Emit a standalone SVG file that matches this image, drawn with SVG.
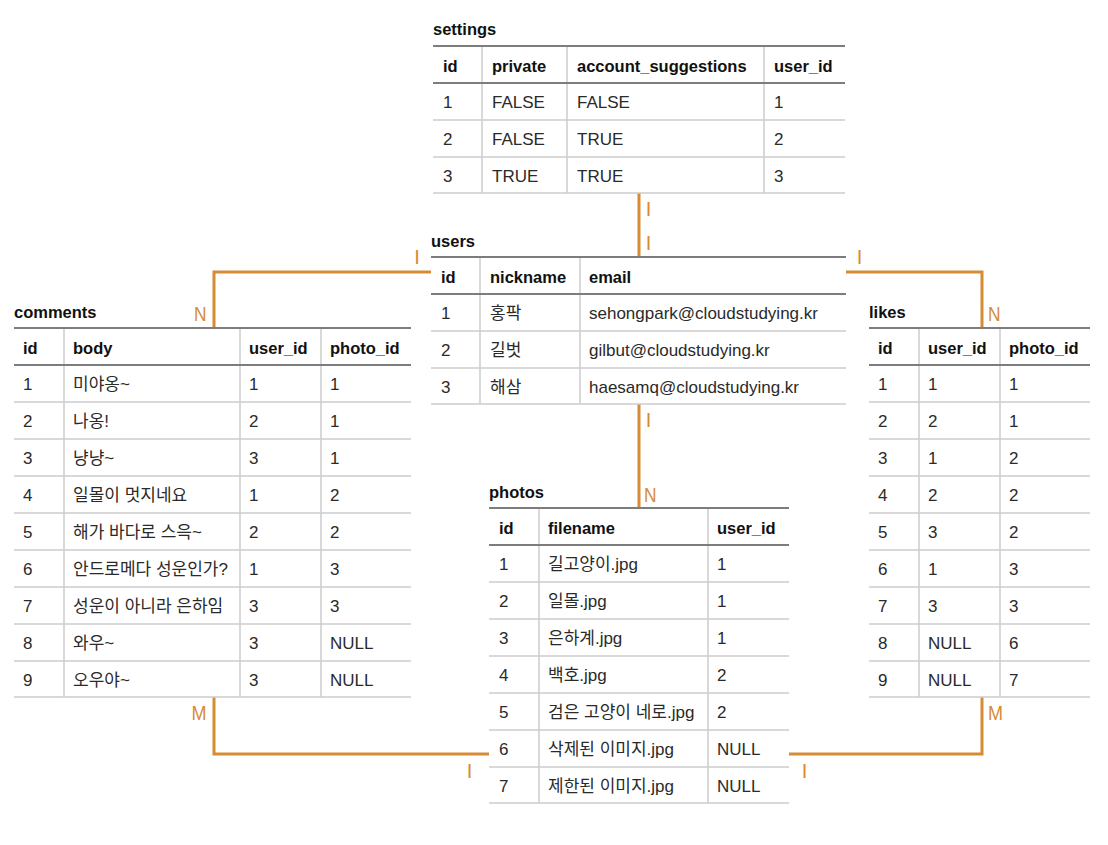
<svg xmlns="http://www.w3.org/2000/svg" width="1108" height="845" viewBox="0 0 1108 845">
<style>
text{font-family:"Liberation Sans","Noto Sans CJK KR",sans-serif;fill:#222}
.ti{font-size:16.5px;font-weight:bold;fill:#111}
.h{font-size:16.5px;font-weight:bold;fill:#111}
.d{font-size:17px;fill:#2a2a2a}
.dk{stroke:#7d7d7d;stroke-width:2;fill:none}
.lt{stroke:#cdcdcd;stroke-width:1.5;fill:none}
.conn{stroke:#d68b35;stroke-width:3;fill:none}
.lab{font-size:20px;fill:#d68b35}
</style>
<rect width="1108" height="845" fill="#fff"/>

<g id="connectors">
<path class="conn" d="M639 193V257"/>
<path class="conn" d="M431 272H214V328"/>
<path class="conn" d="M846 272H982V328"/>
<path class="conn" d="M639 404V508"/>
<path class="conn" d="M214 697V754H489"/>
<path class="conn" d="M982 697V754H789"/>
<text class="lab" x="648.5" y="216" text-anchor="middle">I</text>
<text class="lab" x="648.5" y="249.5" text-anchor="middle">I</text>
<text class="lab" x="417" y="264" text-anchor="middle">I</text>
<text class="lab" x="194" y="321" textLength="12.5" lengthAdjust="spacingAndGlyphs">N</text>
<text class="lab" x="859.5" y="264" text-anchor="middle">I</text>
<text class="lab" x="988" y="321" textLength="12.5" lengthAdjust="spacingAndGlyphs">N</text>
<text class="lab" x="648.5" y="427" text-anchor="middle">I</text>
<text class="lab" x="644" y="501.5" textLength="12.5" lengthAdjust="spacingAndGlyphs">N</text>
<text class="lab" x="191.5" y="720" textLength="15" lengthAdjust="spacingAndGlyphs">M</text>
<text class="lab" x="469.5" y="778" text-anchor="middle">I</text>
<text class="lab" x="988" y="720" textLength="15" lengthAdjust="spacingAndGlyphs">M</text>
<text class="lab" x="804.5" y="778" text-anchor="middle">I</text>
</g>

<g id="settings">
<text class="ti" x="433" y="35">settings</text>
<path class="lt" d="M482 46V193M567 46V193M764 46V193"/>
<path class="lt" d="M433 120H845M433 157H845M433 193H845"/>
<path class="dk" d="M433 46H845M433 83H845"/>
<text class="h" x="443" y="71.5">id</text><text class="h" x="492" y="71.5">private</text><text class="h" x="577" y="71.5">account_suggestions</text><text class="h" x="774" y="71.5">user_id</text>
<text class="d" x="443" y="107.5">1</text><text class="d" x="492" y="107.5">FALSE</text><text class="d" x="577" y="107.5">FALSE</text><text class="d" x="774" y="107.5">1</text>
<text class="d" x="443" y="144.5">2</text><text class="d" x="492" y="144.5">FALSE</text><text class="d" x="577" y="144.5">TRUE</text><text class="d" x="774" y="144.5">2</text>
<text class="d" x="443" y="181.5">3</text><text class="d" x="492" y="181.5">TRUE</text><text class="d" x="577" y="181.5">TRUE</text><text class="d" x="774" y="181.5">3</text>
</g>

<g id="users">
<text class="ti" x="431" y="247">users</text>
<path class="lt" d="M480 257V404M580 257V404"/>
<path class="lt" d="M431 331H846M431 368H846M431 404H846"/>
<path class="dk" d="M431 257H846M431 294H846"/>
<text class="h" x="441" y="282.5">id</text><text class="h" x="490" y="282.5">nickname</text><text class="h" x="589" y="282.5">email</text>
<text class="d" x="441" y="318.5">1</text><text class="d" x="490" y="318.5">홍팍</text><text class="d" x="589" y="318.5">sehongpark@cloudstudying.kr</text>
<text class="d" x="441" y="355.5">2</text><text class="d" x="490" y="355.5">길벗</text><text class="d" x="589" y="355.5">gilbut@cloudstudying.kr</text>
<text class="d" x="441" y="392.5">3</text><text class="d" x="490" y="392.5">해삼</text><text class="d" x="589" y="392.5">haesamq@cloudstudying.kr</text>
</g>

<g id="comments">
<text class="ti" x="14" y="318">comments</text>
<path class="lt" d="M64 328V697M240 328V697M321 328V697"/>
<path class="lt" d="M14 402H411M14 439H411M14 476H411M14 513H411M14 550H411M14 587H411M14 624H411M14 661H411M14 697H411"/>
<path class="dk" d="M14 328H411M14 365H411"/>
<text class="h" x="23" y="353.5">id</text><text class="h" x="73" y="353.5">body</text><text class="h" x="249" y="353.5">user_id</text><text class="h" x="330" y="353.5">photo_id</text>
<text class="d" x="23" y="389.5">1</text><text class="d" x="73" y="389.5">미야옹~</text><text class="d" x="249" y="389.5">1</text><text class="d" x="330" y="389.5">1</text>
<text class="d" x="23" y="426.5">2</text><text class="d" x="73" y="426.5">나옹!</text><text class="d" x="249" y="426.5">2</text><text class="d" x="330" y="426.5">1</text>
<text class="d" x="23" y="463.5">3</text><text class="d" x="73" y="463.5">냥냥~</text><text class="d" x="249" y="463.5">3</text><text class="d" x="330" y="463.5">1</text>
<text class="d" x="23" y="500.5">4</text><text class="d" x="73" y="500.5">일몰이 멋지네요</text><text class="d" x="249" y="500.5">1</text><text class="d" x="330" y="500.5">2</text>
<text class="d" x="23" y="537.5">5</text><text class="d" x="73" y="537.5">해가 바다로 스윽~</text><text class="d" x="249" y="537.5">2</text><text class="d" x="330" y="537.5">2</text>
<text class="d" x="23" y="574.5">6</text><text class="d" x="73" y="574.5">안드로메다 성운인가?</text><text class="d" x="249" y="574.5">1</text><text class="d" x="330" y="574.5">3</text>
<text class="d" x="23" y="611.5">7</text><text class="d" x="73" y="611.5">성운이 아니라 은하임</text><text class="d" x="249" y="611.5">3</text><text class="d" x="330" y="611.5">3</text>
<text class="d" x="23" y="648.5">8</text><text class="d" x="73" y="648.5">와우~</text><text class="d" x="249" y="648.5">3</text><text class="d" x="330" y="648.5">NULL</text>
<text class="d" x="23" y="685.5">9</text><text class="d" x="73" y="685.5">오우야~</text><text class="d" x="249" y="685.5">3</text><text class="d" x="330" y="685.5">NULL</text>
</g>

<g id="likes">
<text class="ti" x="869" y="318">likes</text>
<path class="lt" d="M919 328V697M1000 328V697"/>
<path class="lt" d="M869 402H1090M869 439H1090M869 476H1090M869 513H1090M869 550H1090M869 587H1090M869 624H1090M869 661H1090M869 697H1090"/>
<path class="dk" d="M869 328H1090M869 365H1090"/>
<text class="h" x="878" y="353.5">id</text><text class="h" x="928" y="353.5">user_id</text><text class="h" x="1009" y="353.5">photo_id</text>
<text class="d" x="878" y="389.5">1</text><text class="d" x="928" y="389.5">1</text><text class="d" x="1009" y="389.5">1</text>
<text class="d" x="878" y="426.5">2</text><text class="d" x="928" y="426.5">2</text><text class="d" x="1009" y="426.5">1</text>
<text class="d" x="878" y="463.5">3</text><text class="d" x="928" y="463.5">1</text><text class="d" x="1009" y="463.5">2</text>
<text class="d" x="878" y="500.5">4</text><text class="d" x="928" y="500.5">2</text><text class="d" x="1009" y="500.5">2</text>
<text class="d" x="878" y="537.5">5</text><text class="d" x="928" y="537.5">3</text><text class="d" x="1009" y="537.5">2</text>
<text class="d" x="878" y="574.5">6</text><text class="d" x="928" y="574.5">1</text><text class="d" x="1009" y="574.5">3</text>
<text class="d" x="878" y="611.5">7</text><text class="d" x="928" y="611.5">3</text><text class="d" x="1009" y="611.5">3</text>
<text class="d" x="878" y="648.5">8</text><text class="d" x="928" y="648.5">NULL</text><text class="d" x="1009" y="648.5">6</text>
<text class="d" x="878" y="685.5">9</text><text class="d" x="928" y="685.5">NULL</text><text class="d" x="1009" y="685.5">7</text>
</g>

<g id="photos">
<text class="ti" x="489" y="498">photos</text>
<path class="lt" d="M539 508V803M708 508V803"/>
<path class="lt" d="M489 582H789M489 619H789M489 656H789M489 693H789M489 730H789M489 767H789M489 803H789"/>
<path class="dk" d="M489 508H789M489 545H789"/>
<text class="h" x="499" y="533.5">id</text><text class="h" x="548" y="533.5">filename</text><text class="h" x="717" y="533.5">user_id</text>
<text class="d" x="499" y="569.5">1</text><text class="d" x="548" y="569.5">길고양이.jpg</text><text class="d" x="717" y="569.5">1</text>
<text class="d" x="499" y="606.5">2</text><text class="d" x="548" y="606.5">일몰.jpg</text><text class="d" x="717" y="606.5">1</text>
<text class="d" x="499" y="643.5">3</text><text class="d" x="548" y="643.5">은하계.jpg</text><text class="d" x="717" y="643.5">1</text>
<text class="d" x="499" y="680.5">4</text><text class="d" x="548" y="680.5">백호.jpg</text><text class="d" x="717" y="680.5">2</text>
<text class="d" x="499" y="717.5">5</text><text class="d" x="548" y="717.5">검은 고양이 네로.jpg</text><text class="d" x="717" y="717.5">2</text>
<text class="d" x="499" y="754.5">6</text><text class="d" x="548" y="754.5">삭제된 이미지.jpg</text><text class="d" x="717" y="754.5">NULL</text>
<text class="d" x="499" y="791.5">7</text><text class="d" x="548" y="791.5">제한된 이미지.jpg</text><text class="d" x="717" y="791.5">NULL</text>
</g>
</svg>
